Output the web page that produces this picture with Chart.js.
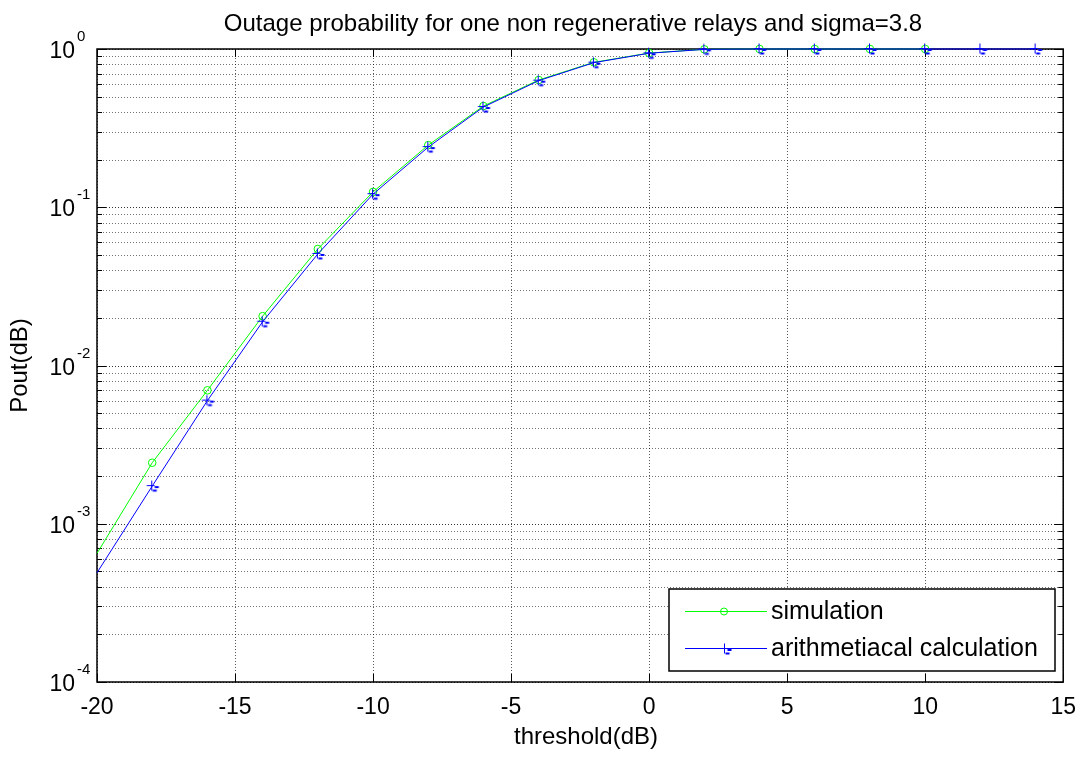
<!DOCTYPE html>
<html><head><meta charset="utf-8">
<script src="https://cdn.jsdelivr.net/npm/chart.js@4.4.1/dist/chart.umd.min.js"></script>
<style>html,body{margin:0;padding:0;background:#fff;} #wrap{width:1088px;height:757px;}</style>
</head><body>
<div id="wrap"><canvas id="c" width="1088" height="757"></canvas></div>
<script>
// ---- data ----
const calcThresholds = [-20,-18,-16,-14,-12,-10,-8,-6,-4,-2,0,2,4,6,8,10,12,14];
const simThresholds  = [-20,-18,-16,-14,-12,-10,-8,-6,-4,-2,0,2,4,6,8,10];
const simulation  = [6.5e-4,2.43e-3,6.97e-3,2.05e-2,5.45e-2,0.125,0.247,0.436,0.637,0.824,0.943,0.995,1,1,1,1];
const calculation = [4.9e-4,1.73e-3,6.0e-3,1.89e-2,5.07e-2,0.121,0.240,0.43,0.631,0.82,0.94,0.995,1,1,1,1,1,1];
const xTickValues = [-20,-15,-10,-5,0,5,10,15];
const yDecades = [1e-4,1e-3,1e-2,1e-1,1];
const yExponents = ['-4','-3','-2','-1','0'];
const yMinorMultipliers = [2,3,4,5,6,7,8,9];
const titleText = 'Outage probability for one non regenerative relays and sigma=3.8';
const xLabelText = 'threshold(dB)';
const yLabelText = 'Pout(dB)';
const seriesNames = ['simulation','arithmetiacal calculation'];

const FONT = "'Liberation Sans', Arial, Helvetica, sans-serif";
const GREEN = '#00ff00';
const BLUE = '#0000ff';

const yGridValues = [];
yDecades.forEach((d, i) => {
  yGridValues.push(d);
  if (i < yDecades.length - 1) yMinorMultipliers.forEach(m => yGridValues.push(d * m));
});

function hline(ctx, x1, x2, y) { ctx.beginPath(); ctx.moveTo(x1, y); ctx.lineTo(x2, y); ctx.stroke(); }
function vline(ctx, x, y1, y2) { ctx.beginPath(); ctx.moveTo(x, y1); ctx.lineTo(x, y2); ctx.stroke(); }

// MATLAB-like "+" marker with the little dash glyph artefact
function drawPlusMarker(ctx, cx, cy) {
  ctx.beginPath();
  ctx.moveTo(cx - 5, cy); ctx.lineTo(cx + 3, cy);
  ctx.moveTo(cx, cy - 5); ctx.lineTo(cx, cy + 5);
  ctx.stroke();
  ctx.lineWidth = 2;
  hline(ctx, cx + 3, cx + 7, cy + 1.5);
  hline(ctx, cx + 1, cx + 5, cy + 5);
  ctx.lineWidth = 1;
}
const plusMarker = document.createElement('canvas');
plusMarker.width = 18; plusMarker.height = 18;
(function () {
  const c = plusMarker.getContext('2d');
  c.strokeStyle = BLUE; c.lineWidth = 1;
  drawPlusMarker(c, 8.5, 8.5);
})();

const matlabPlugin = {
  id: 'matlab',
  beforeDatasetsDraw(chart) {
    const { ctx, chartArea: a, scales: { x, y } } = chart;
    ctx.save();
    ctx.lineWidth = 1;
    ctx.setLineDash([1, 2]);
    yGridValues.forEach(v => {
      const py = Math.round(y.getPixelForValue(v)) + 0.5;
      ctx.strokeStyle = yDecades.includes(v) ? 'rgba(0,0,0,0.8)' : 'rgba(0,0,0,0.55)';
      hline(ctx, a.left, a.right, py);
    });
    ctx.strokeStyle = 'rgba(0,0,0,0.65)';
    xTickValues.forEach(v => {
      const px = Math.round(x.getPixelForValue(v)) + 0.5;
      vline(ctx, px, a.top, a.bottom);
    });
    ctx.setLineDash([]);
    // box
    ctx.strokeStyle = '#000';
    ctx.lineWidth = 1.5;
    ctx.strokeRect(a.left, a.top, a.right - a.left, a.bottom - a.top);
    // ticks
    ctx.lineWidth = 1;
    xTickValues.forEach(v => {
      const px = Math.round(x.getPixelForValue(v)) + 0.5;
      vline(ctx, px, a.bottom, a.bottom - 8);
      vline(ctx, px, a.top, a.top + 8);
    });
    yGridValues.forEach(v => {
      const py = Math.round(y.getPixelForValue(v)) + 0.5;
      const len = yDecades.includes(v) ? 9 : 5;
      hline(ctx, a.left, a.left + len, py);
      hline(ctx, a.right - len, a.right, py);
    });
    // y tick labels (10^k)
    ctx.fillStyle = '#000';
    yDecades.forEach((d, i) => {
      const py = y.getPixelForValue(d);
      ctx.font = '23px ' + FONT;
      ctx.textAlign = 'right';
      ctx.textBaseline = 'alphabetic';
      ctx.fillText('10', 75, py + 9);
      ctx.font = '15px ' + FONT;
      ctx.textAlign = 'left';
      ctx.fillText(yExponents[i], 77, py - 8);
    });
    // title and axis labels
    ctx.font = '24px ' + FONT;
    ctx.textAlign = 'center';
    ctx.textBaseline = 'alphabetic';
    ctx.fillText(titleText, 573, 31);
    ctx.textBaseline = 'middle';
    ctx.fillText(xLabelText, 586, 737);
    ctx.save();
    ctx.translate(20, (a.top + a.bottom) / 2);
    ctx.rotate(-Math.PI / 2);
    ctx.fillText(yLabelText, 0, 0);
    ctx.restore();
    ctx.restore();
  },
  afterDatasetsDraw(chart) {
    const { ctx } = chart;
    ctx.save();
    const L = 669, T = 589, R = 1055, B = 671;
    ctx.fillStyle = '#fff';
    ctx.fillRect(L, T, R - L, B - T);
    ctx.strokeStyle = '#000';
    ctx.lineWidth = 1.5;
    ctx.strokeRect(L, T, R - L, B - T);
    const rows = [611, 648];
    const colors = [GREEN, BLUE];
    rows.forEach((ry, i) => {
      ctx.strokeStyle = colors[i];
      ctx.lineWidth = 1;
      hline(ctx, 685, 767, ry + 0.5);
      if (i === 0) {
        ctx.beginPath(); ctx.arc(724, ry + 0.5, 3.5, 0, Math.PI * 2); ctx.stroke();
      } else {
        drawPlusMarker(ctx, 724.5, ry + 0.5);
      }
      ctx.fillStyle = '#000';
      ctx.font = '25px ' + FONT;
      ctx.textAlign = 'left';
      ctx.textBaseline = 'middle';
      ctx.fillText(seriesNames[i], 771, ry + 1);
    });
    ctx.restore();
  }
};

const simData = simThresholds.map((t, i) => ({ x: t, y: simulation[i] }));
const calcData = calcThresholds.map((t, i) => ({ x: t, y: calculation[i] }));

new Chart(document.getElementById('c'), {
  type: 'line',
  data: {
    datasets: [
      {
        label: seriesNames[0], data: simData, borderColor: GREEN, backgroundColor: 'rgba(0,0,0,0)',
        borderWidth: 1, pointStyle: 'circle', pointRadius: simData.map((p, i) => i === 0 ? 0 : 3.8),
        pointBorderColor: GREEN, pointBorderWidth: 1, pointBackgroundColor: 'rgba(0,0,0,0)',
        tension: 0, clip: false, order: 2
      },
      {
        label: seriesNames[1], data: calcData, borderColor: BLUE, backgroundColor: 'rgba(0,0,0,0)',
        borderWidth: 1, pointStyle: calcData.map((p, i) => i === 0 ? false : plusMarker),
        pointRadius: 5,
        tension: 0, clip: false, order: 1
      }
    ]
  },
  options: {
    responsive: false,
    animation: false,
    devicePixelRatio: 1,
    layout: { padding: { left: 0, right: 23, top: 49, bottom: 0 } },
    plugins: { legend: { display: false }, tooltip: { enabled: false }, title: { display: false } },
    scales: {
      x: {
        type: 'linear', min: -20, max: 15,
        afterBuildTicks: s => { s.ticks = xTickValues.map(v => ({ value: v })); },
        afterFit: s => { s.height = 75; },
        grid: { display: false, drawTicks: false },
        border: { display: false },
        ticks: { color: '#000', font: { family: FONT, size: 23 }, padding: 12, maxRotation: 0, autoSkip: false }
      },
      y: {
        type: 'logarithmic', min: 1e-4, max: 1,
        afterBuildTicks: s => { s.ticks = yGridValues.map(v => ({ value: v })); },
        afterFit: s => { s.width = 97; },
        grid: { display: false },
        border: { display: false },
        ticks: { display: false }
      }
    }
  },
  plugins: [matlabPlugin]
});
</script>
</body></html>
